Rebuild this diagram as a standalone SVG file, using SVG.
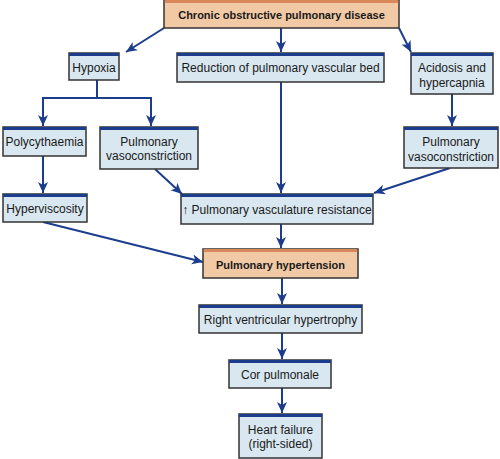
<svg xmlns="http://www.w3.org/2000/svg" width="500" height="459" viewBox="0 0 500 459">
<defs>
<style>
.b{fill:#d8e7f0;stroke:#333;stroke-width:1.5}
.o{fill:#f1c9a5;stroke:#333;stroke-width:1.5}
.bb{fill:#1c3c8c}
.ob{fill:#d8885a}
text{font-family:"Liberation Sans",Arial,sans-serif;font-size:12px;fill:#1a1a1a;text-anchor:middle}
.t{font-weight:bold;font-size:11px}
.c{fill:none;stroke:#1c3c8c;stroke-width:2}
</style>
<marker id="a" markerUnits="userSpaceOnUse" markerWidth="12" markerHeight="12" viewBox="0 0 12 12" refX="11" refY="6" orient="auto">
<path d="M0,1 L11,6 L0,11 L3,6 z" fill="#1c3c8c"/>
</marker>
</defs>
<rect width="500" height="459" fill="#fff"/>
<g id="connectors">
<path class="c" d="M164,28 L126,52" marker-end="url(#a)"/>
<path class="c" d="M281,28 L281,52" marker-end="url(#a)"/>
<path class="c" d="M399,28 L411,52" marker-end="url(#a)"/>
<path class="c" d="M97,80 L97,98 M43,98 L151,98"/>
<path class="c" d="M43,97 L43,126" marker-end="url(#a)"/>
<path class="c" d="M151,97 L151,126" marker-end="url(#a)"/>
<path class="c" d="M452,94 L452,126" marker-end="url(#a)"/>
<path class="c" d="M43,156 L43,193" marker-end="url(#a)"/>
<path class="c" d="M155,169 L182,194" marker-end="url(#a)"/>
<path class="c" d="M281,82 L281,193" marker-end="url(#a)"/>
<path class="c" d="M450,168 L374,193" marker-end="url(#a)"/>
<path class="c" d="M43,222 L203,262" marker-end="url(#a)"/>
<path class="c" d="M281,224 L281,248" marker-end="url(#a)"/>
<path class="c" d="M282,278 L282,304" marker-end="url(#a)"/>
<path class="c" d="M282,333 L282,359" marker-end="url(#a)"/>
<path class="c" d="M282,388 L282,413" marker-end="url(#a)"/>
</g>
<g id="copd"><rect class="o" x="164" y="0" width="235" height="28"/><rect class="ob" x="164.75" y="0" width="233.5" height="3"/><text class="t" x="281.5" y="19">Chronic obstructive pulmonary disease</text></g>
<g id="hypoxia"><rect class="b" x="69" y="53" width="50" height="27"/><rect class="bb" x="69" y="53" width="50" height="3"/><text x="94" y="72">Hypoxia</text></g>
<g id="reduction"><rect class="b" x="177" y="53" width="207" height="29"/><rect class="bb" x="177" y="53" width="207" height="3"/><text x="280.5" y="72">Reduction of pulmonary vascular bed</text></g>
<g id="acidosis"><rect class="b" x="411" y="53" width="82" height="41"/><rect class="bb" x="411" y="53" width="82" height="3"/><text x="452" y="72">Acidosis and</text><text x="452" y="87">hypercapnia</text></g>
<g id="polycythaemia"><rect class="b" x="3" y="127" width="83" height="29"/><rect class="bb" x="3" y="127" width="83" height="3"/><text x="44.5" y="146">Polycythaemia</text></g>
<g id="vasoconstriction-left"><rect class="b" x="100" y="127" width="98" height="42"/><rect class="bb" x="100" y="127" width="98" height="3"/><text x="149" y="146">Pulmonary</text><text x="149" y="160">vasoconstriction</text></g>
<g id="vasoconstriction-right"><rect class="b" x="404" y="127" width="94" height="41"/><rect class="bb" x="404" y="127" width="94" height="3"/><text x="451" y="146">Pulmonary</text><text x="451" y="161">vasoconstriction</text></g>
<g id="hyperviscosity"><rect class="b" x="3" y="194" width="84" height="28"/><rect class="bb" x="3" y="194" width="84" height="3"/><text x="45" y="213">Hyperviscosity</text></g>
<g id="resistance"><rect class="b" x="181" y="194" width="192" height="30"/><rect class="bb" x="181" y="194" width="192" height="3"/><text x="277" y="214">↑ Pulmonary vasculature resistance</text></g>
<g id="hypertension"><rect class="o" x="203" y="249" width="155" height="29"/><rect class="ob" x="203.75" y="249" width="153.5" height="3"/><text class="t" x="280.5" y="269">Pulmonary hypertension</text></g>
<g id="rvh"><rect class="b" x="199" y="305" width="163" height="28"/><rect class="bb" x="199" y="305" width="163" height="3"/><text x="280.5" y="324">Right ventricular hypertrophy</text></g>
<g id="cor"><rect class="b" x="229" y="360" width="102" height="28"/><rect class="bb" x="229" y="360" width="102" height="3"/><text x="280" y="379">Cor pulmonale</text></g>
<g id="hf"><rect class="b" x="239" y="414" width="83" height="44"/><rect class="bb" x="239" y="414" width="83" height="3"/><text x="280.5" y="434">Heart failure</text><text x="280.5" y="448">(right-sided)</text></g>
</svg>
